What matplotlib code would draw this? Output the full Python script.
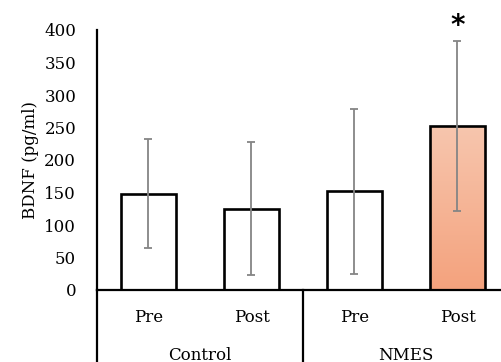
import matplotlib
matplotlib.use("Agg")
import matplotlib.pyplot as plt
import numpy as np
from matplotlib.colors import LinearSegmentedColormap

groups = ["Control", "NMES"]
phases = ["Pre", "Post", "Pre", "Post"]
means = [148, 125, 152, 252]
sds = [84, 102, 127, 131]
yticks = [0, 50, 100, 150, 200, 250, 300, 350, 400]

plt.rcParams['font.family'] = ['DejaVu Serif']
fig = plt.figure(figsize=(5.02, 3.62), dpi=100)
ax = fig.add_axes([97/502, 72/362, 412/502, 260/362])

x = np.arange(len(means))
bars = ax.bar(x, means, width=0.534, color="white", edgecolor="black", linewidth=1.9, zorder=2)
ax.errorbar(x, means, yerr=sds, fmt="none", ecolor="#858585", elinewidth=1.3,
            capsize=3.2, capthick=1.3, zorder=3)

# gradient fill for the NMES Post bar
cmap = LinearSegmentedColormap.from_list("g", ["#F4A27D", "#F7C6AE"])
b = bars[3]
b.set_facecolor("none")
bx, by, bw, bh = b.get_x(), b.get_y(), b.get_width(), b.get_height()
grad = np.linspace(0, 1, 256).reshape(-1, 1)
im = ax.imshow(grad, extent=[bx, bx + bw, by, by + bh], origin="lower", cmap=cmap,
               aspect="auto", zorder=1.5)
im.set_clip_path(b)

ax.set_xlim(-0.5, 3.5)
ax.set_ylim(0, 400)
ax.set_yticks(yticks)
ax.tick_params(axis="y", length=0, pad=15, labelsize=12)
ax.set_xticks([])
for s in ["top", "right"]:
    ax.spines[s].set_visible(False)
ax.spines["left"].set_linewidth(1.6)
ax.spines["bottom"].set_linewidth(1.6)
ax.set_ylabel("BDNF (pg/ml)", fontsize=12, labelpad=4)

# multi-level category axis
ax.plot([0, 0], [0, -0.3], transform=ax.transAxes, color="black", lw=1.6, clip_on=False)
ax.plot([0.5, 0.5], [0, -0.3], transform=ax.transAxes, color="black", lw=1.6, clip_on=False)
for xi, p in zip(x, phases):
    ax.text(xi, -28/260, p, transform=ax.get_xaxis_transform(), ha="center", va="center", fontsize=12)
for gi, g in enumerate(groups):
    ax.text(0.5 + 2 * gi, -65/260, g, transform=ax.get_xaxis_transform(), ha="center", va="center", fontsize=12)

ax.text(3, means[3] + sds[3] + 1, "*", ha="center", va="bottom", fontsize=20, fontweight="bold",
        family="DejaVu Sans")

fig.savefig("out.png", dpi=100)
